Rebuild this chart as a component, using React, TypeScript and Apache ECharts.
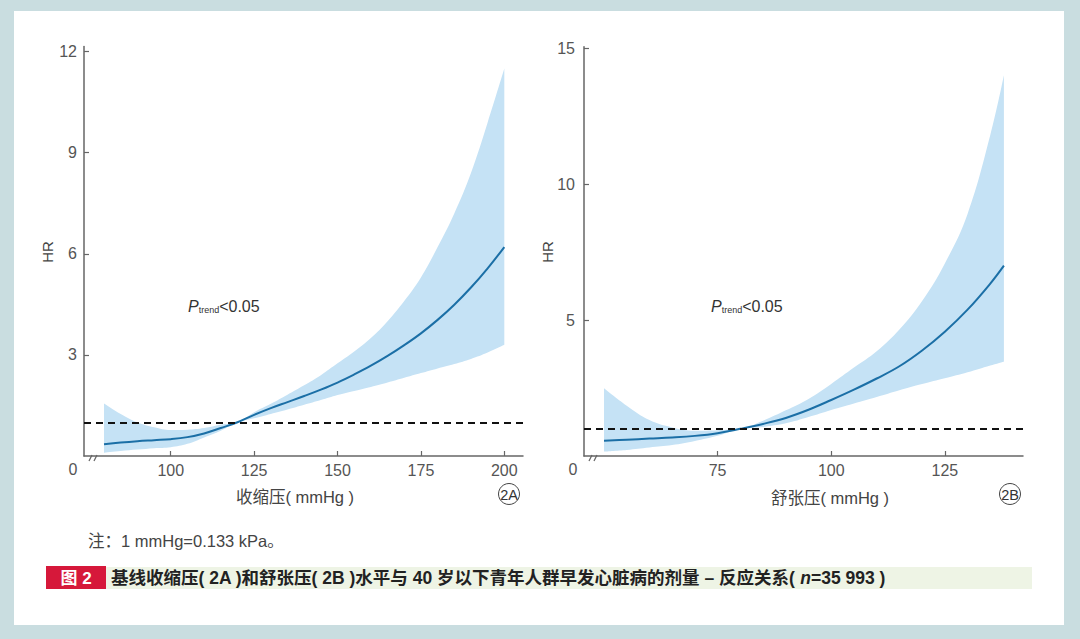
import React, { useEffect, useRef } from "react";
import * as echarts from "echarts";

// ---- Data ----
const SBP_X = [80, 85, 90, 95, 100, 105, 110, 115, 120, 125, 130, 135, 140, 145, 150, 155, 160, 165, 170, 175, 180, 185, 190, 195, 200];
const SBP_HR = [0.35, 0.4, 0.44, 0.47, 0.5, 0.56, 0.67, 0.83, 1.0, 1.22, 1.42, 1.6, 1.78, 1.97, 2.18, 2.42, 2.68, 2.97, 3.29, 3.64, 4.04, 4.49, 5.0, 5.57, 6.2];
const SBP_LOWER = [0.1, 0.15, 0.19, 0.23, 0.26, 0.36, 0.55, 0.75, 1.0, 1.12, 1.25, 1.38, 1.52, 1.66, 1.81, 1.93, 2.05, 2.18, 2.32, 2.46, 2.6, 2.73, 2.88, 3.07, 3.3];
const SBP_UPPER = [1.56, 1.25, 1.0, 0.85, 0.77, 0.78, 0.83, 0.93, 1.0, 1.3, 1.55, 1.82, 2.1, 2.4, 2.75, 3.1, 3.5, 4.0, 4.6, 5.3, 6.2, 7.2, 8.4, 9.9, 11.5];

const DBP_X = [50, 55, 60, 65, 70, 75, 80, 85, 90, 95, 100, 105, 110, 115, 120, 125, 130, 135, 138];
const DBP_HR = [0.56, 0.6, 0.64, 0.68, 0.74, 0.84, 1.0, 1.18, 1.4, 1.7, 2.06, 2.44, 2.85, 3.3, 3.88, 4.57, 5.38, 6.34, 7.0];
const DBP_LOWER = [0.16, 0.22, 0.31, 0.4, 0.55, 0.74, 1.0, 1.07, 1.2, 1.43, 1.69, 1.93, 2.17, 2.42, 2.65, 2.86, 3.08, 3.33, 3.47];
const DBP_UPPER = [2.49, 1.85, 1.32, 1.05, 0.93, 0.95, 1.0, 1.3, 1.68, 2.1, 2.65, 3.25, 3.85, 4.65, 5.7, 7.08, 8.9, 11.8, 14.0];

const SBP_X_TICKS = [100, 125, 150, 175, 200];
const DBP_X_TICKS = [75, 100, 125];
const SBP_Y_TICKS = [3, 6, 9, 12];
const DBP_Y_TICKS = [5, 10, 15];
const REF_HR = 1;

const FONT = "'Liberation Sans', Arial, 'Noto Sans CJK SC', sans-serif";
const CJK_FONT = "'Liberation Sans', 'Noto Sans CJK SC', sans-serif";
const LINE_COLOR = "#1b6fa6";
const BAND_COLOR = "#c5e2f5";
const AXIS_COLOR = "#666";
const LABEL_COLOR = "#555";

function pairs(xs: number[], ys: number[]) {
  return xs.map((x, i) => [x, ys[i]]);
}
// y first, x second: so that stacking is done on the HR (y) dimension
function yxPairs(xs: number[], ys: number[]) {
  return xs.map((x, i) => [ys[i], x]);
}
function yxDiffPairs(xs: number[], hi: number[], lo: number[]) {
  return xs.map((x, i) => [+(hi[i] - lo[i]).toFixed(3), x]);
}

function xAxisCfg(grid: number, min: number, max: number, ticks: number[]) {
  return {
    gridIndex: grid,
    type: "value",
    min,
    max,
    axisLine: { show: true, onZero: false, lineStyle: { color: AXIS_COLOR, width: 1.5 } },
    axisTick: { show: true, inside: true, length: 5, customValues: ticks, lineStyle: { color: AXIS_COLOR, width: 1.2 } },
    axisLabel: { customValues: ticks, color: LABEL_COLOR, fontSize: 16, margin: 6, fontFamily: FONT },
    splitLine: { show: false },
  };
}
function yAxisCfg(grid: number, max: number, ticks: number[], margin: number) {
  return {
    gridIndex: grid,
    type: "value",
    min: 0,
    max,
    axisLine: { show: true, lineStyle: { color: AXIS_COLOR, width: 1.5 } },
    axisTick: { show: true, inside: true, length: 5, customValues: ticks, lineStyle: { color: AXIS_COLOR, width: 1.2 } },
    axisLabel: { customValues: ticks, color: LABEL_COLOR, fontSize: 16, margin, fontFamily: FONT },
    splitLine: { show: false },
  };
}

function bandSeries(idx: number, stack: string, xs: number[], lo: number[], hi: number[], mid: number[]) {
  return [
    {
      type: "line",
      xAxisIndex: idx,
      yAxisIndex: idx,
      stack,
      data: yxPairs(xs, lo),
      encode: { x: 1, y: 0 },
      symbol: "none",
      smooth: 0.4,
      lineStyle: { opacity: 0 },
      silent: true,
      z: 1,
    },
    {
      type: "line",
      xAxisIndex: idx,
      yAxisIndex: idx,
      stack,
      data: yxDiffPairs(xs, hi, lo),
      encode: { x: 1, y: 0 },
      symbol: "none",
      smooth: 0.4,
      lineStyle: { opacity: 0 },
      areaStyle: { color: BAND_COLOR, opacity: 1 },
      silent: true,
      z: 1,
    },
    {
      type: "line",
      xAxisIndex: idx,
      yAxisIndex: idx,
      data: pairs(xs, mid),
      symbol: "none",
      smooth: 0.4,
      lineStyle: { color: LINE_COLOR, width: 2 },
      z: 3,
      markLine: {
        silent: true,
        symbol: "none",
        label: { show: false },
        lineStyle: { color: "#111", type: [7, 5], width: 1.8 },
        data: [{ yAxis: REF_HR }],
      },
    },
  ];
}

function ptrend(x: number, y: number) {
  return {
    type: "text",
    x,
    y,
    style: {
      text: "{p|P}{s|trend}{t|<0.05}",
      verticalAlign: "middle",
      align: "left",
      fill: "#333",
      rich: {
        p: { fontStyle: "italic", fontSize: 16, fontFamily: FONT, fill: "#333" },
        s: { fontSize: 9, fontFamily: FONT, fill: "#333", verticalAlign: "bottom", padding: [6, 0, 0, 0] },
        t: { fontSize: 16, fontFamily: FONT, fill: "#333" },
      },
    },
  };
}

function breakMarks(x0: number) {
  return [
    { type: "line", shape: { x1: x0, y1: 461, x2: x0 + 3, y2: 455 }, style: { stroke: AXIS_COLOR, lineWidth: 1.2 } },
    { type: "line", shape: { x1: x0 + 5, y1: 461, x2: x0 + 8, y2: 455 }, style: { stroke: AXIS_COLOR, lineWidth: 1.2 } },
  ];
}

function textEl(text: string, x: number, y: number, size: number, fill: string, extra: any = {}) {
  return {
    type: "text",
    x,
    y,
    ...extra,
    style: { text, fontSize: size, fill, fontFamily: CJK_FONT, align: "center", verticalAlign: "middle", ...(extra.style || {}) },
  };
}

function circled(label: string, cx: number, cy: number) {
  return [
    { type: "circle", shape: { cx, cy, r: 10.5 }, style: { fill: "none", stroke: "#444", lineWidth: 1 } },
    textEl(label, cx, cy + 1, 14.5, "#333"),
  ];
}

export default function App() {
  const ref = useRef<HTMLDivElement>(null);

  useEffect(() => {
    if (!ref.current) return;
    const chart = echarts.init(ref.current, undefined, { renderer: "svg" });
    const option: any = {
      animation: false,
      backgroundColor: "transparent",
      grid: [
        { left: 84, top: 46.6, width: 439, height: 409.4, containLabel: false, outerBoundsMode: "none" },
        { left: 584, top: 46.7, width: 439, height: 409.3, containLabel: false, outerBoundsMode: "none" },
      ],
      xAxis: [xAxisCfg(0, 74, 205.6, SBP_X_TICKS), xAxisCfg(1, 45.6, 142.2, DBP_X_TICKS)],
      yAxis: [yAxisCfg(0, 12.15, SBP_Y_TICKS, 7), yAxisCfg(1, 15.05, DBP_Y_TICKS, 9)],
      series: [
        ...bandSeries(0, "sbp", SBP_X, SBP_LOWER, SBP_UPPER, SBP_HR),
        ...bandSeries(1, "dbp", DBP_X, DBP_LOWER, DBP_UPPER, DBP_HR),
      ],
      graphic: [
        textEl("0", 73, 469, 16, LABEL_COLOR),
        textEl("0", 573, 469, 16, LABEL_COLOR),
        ...breakMarks(89),
        ...breakMarks(589),
        textEl("HR", 47, 252, 15, "#444", { rotation: Math.PI / 2 }),
        textEl("HR", 547, 252, 15, "#444", { rotation: Math.PI / 2 }),
        textEl("收缩压( mmHg )", 295, 497, 16.5, "#444"),
        textEl("舒张压( mmHg )", 830, 498, 16.5, "#444"),
        ...circled("2A", 509, 494),
        ...circled("2B", 1010, 494),
        ptrend(188, 306),
        ptrend(711, 306),
        textEl("注：1 mmHg=0.133 kPa。", 88, 541, 16.5, "#444", { style: { align: "left" } }),
        { type: "rect", shape: { x: 46, y: 566, width: 60, height: 23 }, style: { fill: "#d6183a" } },
        { type: "rect", shape: { x: 106, y: 567, width: 926, height: 22 }, style: { fill: "#eef4e5" } },
        textEl("图 2", 76, 578, 17, "#fff", { style: { fontWeight: "bold" } }),
        {
          type: "text",
          x: 111,
          y: 578,
          style: {
            text: "{a|基线收缩压( 2A )和舒张压( 2B )水平与 40 岁以下青年人群早发心脏病的剂量 – 反应关系( }{n|n}{a|=35 993 )}",
            align: "left",
            verticalAlign: "middle",
            rich: {
              a: { fontSize: 17.5, fontWeight: "bold", fill: "#222", fontFamily: CJK_FONT },
              n: { fontSize: 17.5, fontWeight: "bold", fontStyle: "italic", fill: "#222", fontFamily: CJK_FONT },
            },
          },
        },
      ],
    };
    chart.setOption(option);
    return () => chart.dispose();
  }, []);

  return (
    <div style={{ position: "fixed", left: 0, top: 0, width: 1080, height: 639, background: "#c9dde0" }}>
      <div style={{ position: "absolute", left: 14, top: 11, width: 1050, height: 614, background: "#ffffff" }} />
      <div ref={ref} style={{ position: "absolute", left: 0, top: 0, width: 1080, height: 639 }} />
    </div>
  );
}
